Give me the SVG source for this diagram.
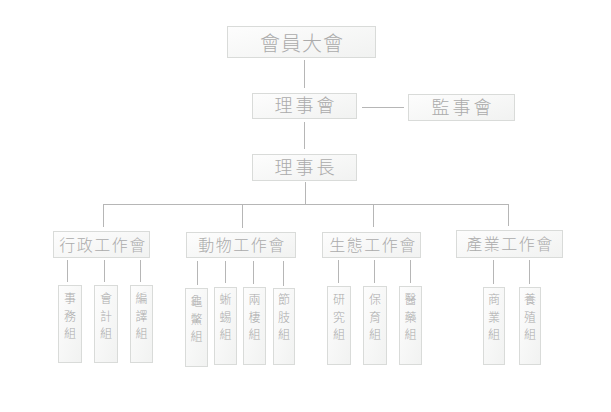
<svg xmlns="http://www.w3.org/2000/svg" width="611" height="412" viewBox="0 0 611 412">
<defs>
<linearGradient id="g" x1="0" y1="0" x2="1" y2="1">
<stop offset="0" stop-color="#fdfdfd"/>
<stop offset="1" stop-color="#f1f2f1"/>
</linearGradient>
</defs>
<style>
.box{fill:url(#g);stroke:#d9dbd9;stroke-width:1}
.t{font-family:"Noto Sans CJK TC","Noto Sans CJK SC",sans-serif;font-weight:300;fill:#ababab;text-anchor:middle}
.h1{font-size:20px;letter-spacing:1px}
.h2{font-size:18px;letter-spacing:3px}
.h3{font-size:16px;letter-spacing:1.5px}
.v{font-size:12px}
.c line{stroke:#b6b6b6;stroke-width:1}
</style>
<rect width="611" height="412" fill="#ffffff"/>
<g class="c" id="connectors">
<line x1="304.5" y1="60" x2="304.5" y2="88"/>
<line x1="362" y1="107.5" x2="404" y2="107.5"/>
<line x1="304.5" y1="122" x2="304.5" y2="149"/>
<line x1="305.5" y1="182" x2="305.5" y2="204"/>
<line x1="103" y1="204.5" x2="509" y2="204.5"/>
<line x1="103.5" y1="204" x2="103.5" y2="227"/>
<line x1="242.5" y1="204" x2="242.5" y2="228"/>
<line x1="373.5" y1="204" x2="373.5" y2="227"/>
<line x1="508.5" y1="204" x2="508.5" y2="226"/>
<line x1="67.5" y1="260" x2="67.5" y2="282"/>
<line x1="104.5" y1="260" x2="104.5" y2="282"/>
<line x1="140.5" y1="260" x2="140.5" y2="282"/>
<line x1="197.5" y1="261" x2="197.5" y2="285"/>
<line x1="225.5" y1="261" x2="225.5" y2="283"/>
<line x1="253.5" y1="261" x2="253.5" y2="284"/>
<line x1="283.5" y1="261" x2="283.5" y2="286"/>
<line x1="338.5" y1="260" x2="338.5" y2="283"/>
<line x1="374.5" y1="260" x2="374.5" y2="283"/>
<line x1="410.5" y1="260" x2="410.5" y2="283"/>
<line x1="493.5" y1="260" x2="493.5" y2="284"/>
<line x1="529.5" y1="260" x2="529.5" y2="284"/>
</g>
<g id="n-general">
<rect class="box" x="227.5" y="26.5" width="148" height="31"/>
<text class="t h1" x="302" y="51">會員大會</text>
</g>
<g id="n-board">
<rect class="box" x="252.5" y="93.5" width="104" height="25"/>
<text class="t h2" x="306" y="112">理事會</text>
</g>
<g id="n-supervisors">
<rect class="box" x="408.5" y="94.5" width="106" height="26"/>
<text class="t h2" x="463" y="114">監事會</text>
</g>
<g id="n-chair">
<rect class="box" x="252.5" y="154.5" width="104" height="26"/>
<text class="t h2" x="306" y="174">理事長</text>
</g>
<g id="n-admin">
<rect class="box" x="53.5" y="231.5" width="96" height="26"/>
<text class="t h3" x="103" y="251">行政工作會</text>
</g>
<g id="n-animal">
<rect class="box" x="186.5" y="232.5" width="109" height="25"/>
<text class="t h3" x="242" y="251">動物工作會</text>
</g>
<g id="n-ecology">
<rect class="box" x="322.5" y="232.5" width="98" height="25"/>
<text class="t h3" x="373" y="251">生態工作會</text>
</g>
<g id="n-industry">
<rect class="box" x="456.5" y="230.5" width="106" height="27"/>
<text class="t h3" x="510" y="250">產業工作會</text>
</g>
<g id="n-affairs">
<rect class="box" x="58.5" y="285.5" width="23" height="77"/>
<text class="t v" x="70"><tspan x="70" y="303">事</tspan><tspan x="70" y="320.5">務</tspan><tspan x="70" y="338">組</tspan></text>
</g>
<g id="n-accounting">
<rect class="box" x="94.5" y="285.5" width="23" height="77"/>
<text class="t v" x="106"><tspan x="106" y="303">會</tspan><tspan x="106" y="320.5">計</tspan><tspan x="106" y="338">組</tspan></text>
</g>
<g id="n-translation">
<rect class="box" x="130.5" y="285.5" width="22" height="77"/>
<text class="t v" x="141.5"><tspan x="141.5" y="303">編</tspan><tspan x="141.5" y="320.5">譯</tspan><tspan x="141.5" y="338">組</tspan></text>
</g>
<g id="n-turtle">
<rect class="box" x="185.5" y="288.5" width="22" height="78"/>
<text class="t v" x="196.5"><tspan x="196.5" y="306">龜</tspan><tspan x="196.5" y="323.5">鱉</tspan><tspan x="196.5" y="341">組</tspan></text>
</g>
<g id="n-lizard">
<rect class="box" x="214.5" y="287.5" width="22" height="77"/>
<text class="t v" x="225.5"><tspan x="225.5" y="304">蜥</tspan><tspan x="225.5" y="321.5">蜴</tspan><tspan x="225.5" y="339">組</tspan></text>
</g>
<g id="n-amphibian">
<rect class="box" x="243.5" y="287.5" width="22" height="77"/>
<text class="t v" x="254.5"><tspan x="254.5" y="304">兩</tspan><tspan x="254.5" y="321.5">棲</tspan><tspan x="254.5" y="339">組</tspan></text>
</g>
<g id="n-arthropod">
<rect class="box" x="273.5" y="288.5" width="21" height="76"/>
<text class="t v" x="284"><tspan x="284" y="304">節</tspan><tspan x="284" y="321.5">肢</tspan><tspan x="284" y="339">組</tspan></text>
</g>
<g id="n-research">
<rect class="box" x="327.5" y="286.5" width="23" height="78"/>
<text class="t v" x="339"><tspan x="339" y="304">研</tspan><tspan x="339" y="321.5">究</tspan><tspan x="339" y="339">組</tspan></text>
</g>
<g id="n-conservation">
<rect class="box" x="363.5" y="286.5" width="23" height="78"/>
<text class="t v" x="375"><tspan x="375" y="304">保</tspan><tspan x="375" y="321.5">育</tspan><tspan x="375" y="339">組</tspan></text>
</g>
<g id="n-medicine">
<rect class="box" x="399.5" y="286.5" width="22" height="78"/>
<text class="t v" x="410.5"><tspan x="410.5" y="304">醫</tspan><tspan x="410.5" y="321.5">藥</tspan><tspan x="410.5" y="339">組</tspan></text>
</g>
<g id="n-commerce">
<rect class="box" x="483.5" y="287.5" width="21" height="77"/>
<text class="t v" x="494"><tspan x="494" y="304">商</tspan><tspan x="494" y="321.5">業</tspan><tspan x="494" y="339">組</tspan></text>
</g>
<g id="n-breeding">
<rect class="box" x="519.5" y="287.5" width="21" height="77"/>
<text class="t v" x="530"><tspan x="530" y="304">養</tspan><tspan x="530" y="321.5">殖</tspan><tspan x="530" y="339">組</tspan></text>
</g>
</svg>
